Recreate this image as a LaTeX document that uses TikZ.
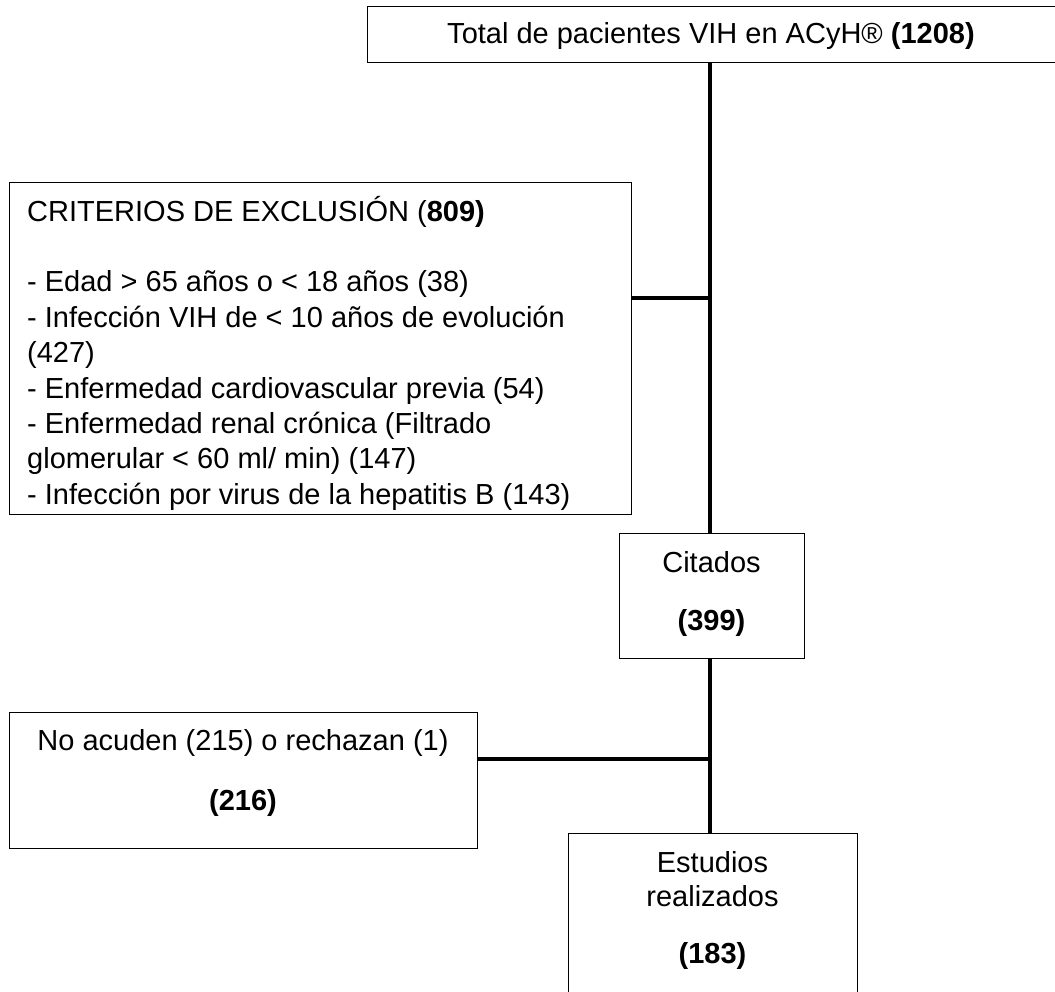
\documentclass[tikz,border=0pt]{standalone}
\usepackage{fontspec}
\setmainfont{Liberation Sans}
\begin{document}
\begin{tikzpicture}[x=1pt,y=-1pt,
  box/.style={draw=black,line width=1pt,anchor=north west,inner sep=0pt,minimum width=#1},
  link/.style={line width=3.5pt},
  txt/.style={inner sep=0pt,font=\fontsize{29}{35.4}\selectfont}]
\useasboundingbox (0,0) rectangle (1055,991);
% boxes
\node[box=698pt,minimum height=56pt] (top) at (367,6) {};
\node[box=622pt,minimum height=332pt] (excl) at (9,182) {};
\node[box=185pt,minimum height=125pt] (cit) at (619,533) {};
\node[box=468pt,minimum height=136pt] (noac) at (9,712) {};
\node[box=289pt,minimum height=200pt] (est) at (568,833) {};
% texts
\node[txt,anchor=base] (toptxt) at (711,43) {Total de pacientes VIH en ACyH® \textbf{(1208)}};
\node[txt,anchor=base west] (e1) at (27,221) {CRITERIOS DE EXCLUSIÓN (\textbf{809)}};
\node[txt,anchor=base west] (e2) at (27,291.8) {- Edad > 65 años o < 18 años (38)};
\node[txt,anchor=base west] (e3) at (27,327.2) {- Infección VIH de < 10 años de evolución};
\node[txt,anchor=base west] (e4) at (27,362.6) {(427)};
\node[txt,anchor=base west] (e5) at (27,398) {- Enfermedad cardiovascular previa (54)};
\node[txt,anchor=base west] (e6) at (27,433.4) {- Enfermedad renal crónica (Filtrado};
\node[txt,anchor=base west] (e7) at (27,468.8) {glomerular < 60 ml/ min) (147)};
\node[txt,anchor=base west] (e8) at (27,504.2) {- Infección por virus de la hepatitis B (143)};
\node[txt,anchor=base] (c1) at (711.5,572) {Citados};
\node[txt,anchor=base] (c2) at (711.5,630) {\textbf{(399)}};
\node[txt,anchor=base] (n1) at (243,750) {No acuden (215) o rechazan (1)};
\node[txt,anchor=base] (n2) at (243,810) {\textbf{(216)}};
\node[txt,anchor=base] (s1) at (712.5,872) {Estudios};
\node[txt,anchor=base] (s2) at (712.5,906) {realizados};
\node[txt,anchor=base] (s3) at (712.5,963) {\textbf{(183)}};
% connectors
\coordinate (j1) at (710,298);
\coordinate (j2) at (710,759);
\draw[link] (top.south -| j1) -- (j1 |- cit.north);
\draw[link] (excl.east |- j1) -- (j1);
\draw[link] (cit.south -| j2) -- (j2 |- est.north);
\draw[link] (noac.east |- j2) -- (j2);
\end{tikzpicture}
\end{document}
